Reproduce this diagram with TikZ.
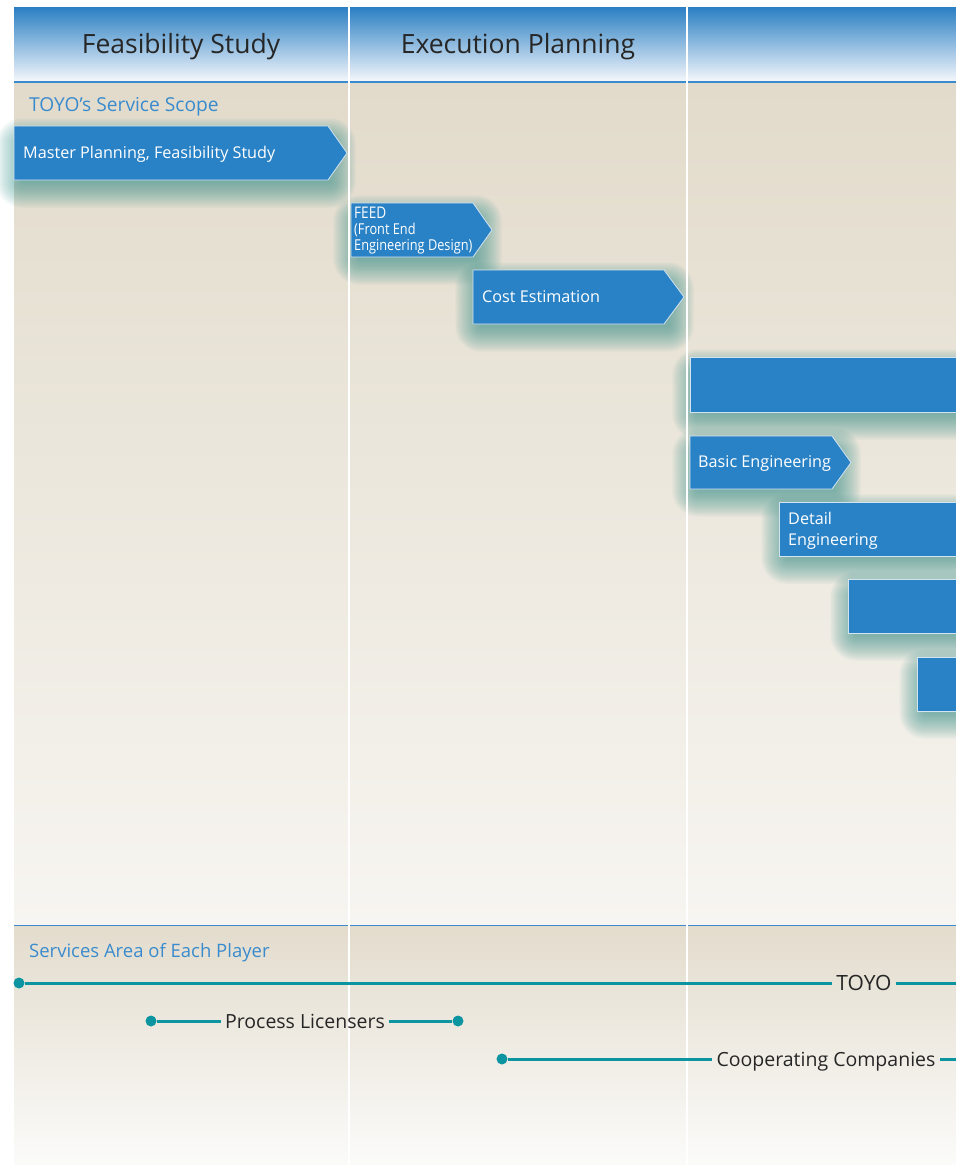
\documentclass[tikz,border=0pt]{standalone}
\usepackage{fontspec}
\setmainfont{Open Sans}
\newfontfamily\narrowfont[FakeStretch=0.85]{Open Sans}
\definecolor{boxblue}{HTML}{2A82C6}
\definecolor{boxedge}{HTML}{D2E3F2}
\definecolor{hdrblue}{HTML}{2A7FC3}
\definecolor{hdrmid}{HTML}{8CB0DC}
\definecolor{hdrlow}{HTML}{F6F8FC}
\definecolor{lineblue}{HTML}{3A8BCE}
\definecolor{labelblue}{HTML}{3A8BCE}
\definecolor{playerteal}{HTML}{0C95A1}
\definecolor{glowteal}{HTML}{3A968F}
\definecolor{bgtop}{HTML}{E2DBCB}
\definecolor{bgbot}{HTML}{F7F5F1}
\definecolor{lowtop}{HTML}{E3DCCD}
\definecolor{lowbot}{HTML}{FBFBFA}
\definecolor{ink}{HTML}{262626}
\newcommand\glowbox[4]{%
  \foreach \r in {1,...,26}{
    \fill[glowteal, opacity=0.03, rounded corners=\r pt]
      ({#1-\r+8}, {#2+18-\r}) rectangle ({#3+\r-10}, {#4+2+\r});
  }}
\tikzset{
  stagebox/.style={fill=boxblue, draw=boxedge, line width=0.8pt},
  boxtext/.style={text=white, anchor=base west, inner sep=0pt, font=\fontsize{16.2}{18}\selectfont},
  feedtext/.style={text=white, anchor=base west, inner sep=0pt, font=\narrowfont\fontsize{15}{16}\selectfont},
  headtext/.style={text=ink, anchor=base, inner sep=0pt, font=\fontsize{26.5}{30}\selectfont},
  sectext/.style={text=labelblue, anchor=base west, inner sep=0pt},
  playerlabel/.style={text=ink, inner xsep=4pt, inner ysep=0pt, text height=14.5pt, text depth=0pt, font=\fontsize{19.5}{24}\selectfont},
  playerdot/.style={circle, fill=playerteal, minimum size=11pt, inner sep=0pt},
  playerline/.style={draw=playerteal, line width=3pt},
  separator/.style={draw=white, line width=2.6pt}
}
\begin{document}
\begin{tikzpicture}[x=1pt, y=-1pt]
\useasboundingbox (0,0) rectangle (956,1165);
\clip (0,0) rectangle (956,1165);
% backgrounds
\shade[top color=hdrblue, middle color=hdrmid, bottom color=hdrlow] (14,7) rectangle (956,82);
\shade[top color=bgtop, bottom color=bgbot] (14,82) rectangle (956,925);
\shade[top color=lowtop, bottom color=lowbot] (14,925) rectangle (956,1165);
\draw[lineblue, line width=1.3pt] (14,82) -- (956,82);
\draw[lineblue, line width=1pt] (14,925.5) -- (956,925.5);
% glows
\glowbox{14}{126}{340}{180}
\glowbox{351}{203}{486}{257}
\glowbox{473}{270}{678}{324}
\glowbox{690}{357}{990}{412}
\glowbox{690}{436}{845}{489}
\glowbox{779}{502}{990}{556}
\glowbox{848}{579}{990}{633}
\glowbox{917}{657}{990}{711}
% column separators
\draw[separator] (349,0) -- (349,1165);
\draw[separator] (687,0) -- (687,1165);
\fill[white] (0,0) rectangle (956,7);
% headers
\node[headtext] (hfs) at (181,53) {Feasibility Study};
\node[headtext] (hep) at (518,53) {Execution Planning};
\node[sectext, font=\fontsize{19.2}{22}\selectfont] (scope) at (29,111) {TOYO’s Service Scope};
% stage boxes
\draw[stagebox] (14,126) -- (328,126) -- (347,153) -- (328,180) -- (14,180) -- cycle;
\node[boxtext] (mp) at (23,158) {Master Planning, Feasibility Study};
\draw[stagebox] (351,203) -- (473,203) -- (492,230) -- (473,257) -- (351,257) -- cycle;
\node[feedtext, font=\narrowfont\fontsize{16}{16}\selectfont] (feed1) at (354,218) {FEED};
\node[feedtext] (feed2) at (354,234) {(Front End};
\node[feedtext] (feed3) at (354,250) {Engineering Design)};
\draw[stagebox] (473,270) -- (664,270) -- (684,297) -- (664,324) -- (473,324) -- cycle;
\node[boxtext] (ce) at (482,302) {Cost Estimation};
\draw[stagebox] (690,357) rectangle (970,412);
\draw[stagebox] (690,436) -- (832,436) -- (851,462.5) -- (832,489) -- (690,489) -- cycle;
\node[boxtext] (be) at (698,467) {Basic Engineering};
\draw[stagebox] (779,502) rectangle (970,556);
\node[boxtext] (de1) at (788,524) {Detail};
\node[boxtext] (de2) at (788,545) {Engineering};
\draw[stagebox] (848,579) rectangle (970,633);
\draw[stagebox] (917,657) rectangle (970,711);
% players
\node[sectext, font=\fontsize{18.5}{22}\selectfont] (area) at (29,957) {Services Area of Each Player};
\node[playerdot] (toyoA) at (19,983) {};
\node[playerlabel, font=\fontsize{21}{24}\selectfont] (toyo) at (864,983.5) {TOYO};
\coordinate (toyoB) at (960,983);
\draw[playerline] (toyoA) -- (toyoA -| toyo.west);
\draw[playerline] (toyo.east |- toyoB) -- (toyoB);
\node[playerdot] (plA) at (151,1021) {};
\node[playerlabel] (pl) at (305,1021) {Process Licensers};
\node[playerdot] (plB) at (458,1021) {};
\draw[playerline] (plA) -- (pl);
\draw[playerline] (pl) -- (plB);
\node[playerdot] (ccA) at (502,1059) {};
\node[playerlabel] (cc) at (826,1059) {Cooperating Companies};
\coordinate (ccB) at (960,1059);
\draw[playerline] (ccA) -- (cc);
\draw[playerline] (cc) -- (ccB);
\end{tikzpicture}
\end{document}
